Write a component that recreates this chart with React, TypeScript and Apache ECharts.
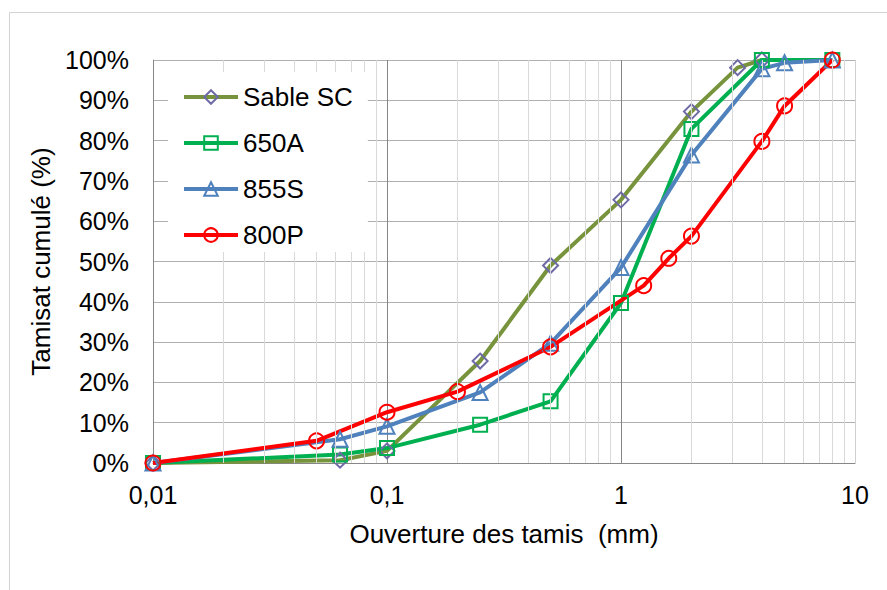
import React, { useEffect, useRef } from "react";
import * as echarts from "echarts";

const seriesNames = ["Sable SC", "650A", "855S", "800P"];
const sableSC: number[][] = [[0.01, 0], [0.063, 0.7], [0.1, 3], [0.25, 25.3], [0.5, 49], [1, 65.3], [2, 87.2], [3.15, 98.1], [4, 100]];
const a650: number[][] = [[0.01, 0], [0.063, 2.1], [0.1, 3.7], [0.25, 9.5], [0.5, 15.3], [1, 39.7], [2, 82.9], [4, 100], [8, 100]];
const s855: number[][] = [[0.01, 0], [0.063, 5.9], [0.1, 9.1], [0.25, 17.5], [0.5, 29.7], [1, 48.5], [2, 76.4], [4, 97.8], [5, 99.3], [8, 100]];
const p800: number[][] = [[0.01, 0], [0.05, 5.5], [0.1, 12.6], [0.2, 17.7], [0.5, 28.8], [1.25, 44], [1.6, 50.8], [2, 56.3], [4, 79.8], [5, 88.6], [8, 100]];

const decades = [0.01, 0.1, 1];
const minorMultipliers = [2, 3, 4, 5, 6, 7, 8, 9];

const FONT = "'Liberation Sans', Arial, sans-serif";

export default function App() {
  const ref = useRef<HTMLDivElement>(null);
  useEffect(() => {
    if (!ref.current) return;
    const chart = echarts.init(ref.current, null, { renderer: "svg" });
    const minorLines: { xAxis: number }[] = [];
    decades.forEach((d) => minorMultipliers.forEach((m) => minorLines.push({ xAxis: +(d * m).toPrecision(3) })));

    const mkSeries = (name: string, data: number[][], line: string, mark: string, symbol: string, size: number) => ({
      name,
      type: "line",
      data,
      symbol,
      symbolSize: size,
      showSymbol: true,
      z: 3,
      lineStyle: { color: line, width: 4 },
      itemStyle: { color: "rgba(255,255,255,0)", borderColor: mark, borderWidth: 2 },
      emphasis: { disabled: true },
    });

    chart.setOption({
      animation: false,
      textStyle: { fontFamily: FONT },
      grid: { left: 153, top: 60, right: 32, bottom: 127, containLabel: false },
      graphic: [
        {
          type: "rect",
          shape: { x: 9.5, y: 12.5, width: 900, height: 600 },
          style: { fill: "none", stroke: "#d3d3d3", lineWidth: 1 },
          z: -10,
          silent: true,
        },
      ],
      legend: {
        data: seriesNames,
        orient: "vertical",
        left: 168,
        top: 72,
        padding: [12, 15, 4, 14],
        backgroundColor: "#ffffff",
        itemWidth: 54,
        itemHeight: 17,
        itemGap: 20,
        lineStyle: { width: 4 },
        textStyle: { fontSize: 26, color: "#000", fontFamily: FONT },
        z: 10,
      },
      xAxis: {
        type: "log",
        logBase: 10,
        min: 0.01,
        max: 10,
        name: "Ouverture des tamis  (mm)",
        nameLocation: "middle",
        nameGap: 58,
        nameTextStyle: { fontSize: 26, color: "#000", fontFamily: FONT },
        axisLine: { show: true, lineStyle: { color: "#878787", width: 1 } },
        axisTick: { show: false },
        axisLabel: {
          fontSize: 25,
          color: "#000",
          margin: 19,
          fontFamily: FONT,
          formatter: (v: number) => String(+v.toPrecision(3)).replace(".", ","),
        },
        splitLine: { show: true, lineStyle: { color: ["#868686", "#868686", "#868686", "#d0d0d0"], width: 1 } },
      },
      yAxis: {
        type: "value",
        min: 0,
        max: 100,
        interval: 10,
        name: "Tamisat cumulé (%)",
        nameLocation: "middle",
        nameGap: 99,
        nameRotate: 90,
        nameTextStyle: { fontSize: 26, color: "#000", fontFamily: FONT },
        axisLine: { show: true, lineStyle: { color: "#878787", width: 1 } },
        axisTick: { show: false },
        axisLabel: { fontSize: 25, color: "#000", margin: 24, fontFamily: FONT, formatter: "{value}%" },
        splitLine: { show: true, lineStyle: { color: "#b0b0b0", width: 1 } },
      },
      series: [
        {
          name: "minor-grid",
          type: "line",
          data: [[0.01, 0]],
          symbol: "none",
          lineStyle: { opacity: 0 },
          z: 1,
          silent: true,
          markLine: {
            silent: true,
            symbol: ["none", "none"],
            label: { show: false },
            lineStyle: { color: "#d9d9d9", width: 1, type: "solid" },
            emphasis: { disabled: true },
            data: minorLines,
          },
        },
        mkSeries("Sable SC", sableSC, "#77933C", "#6E6AA6", "diamond", 15),
        mkSeries("650A", a650, "#00B050", "#00B050", "rect", 14),
        mkSeries("855S", s855, "#4F81BD", "#4F81BD", "triangle", 15),
        mkSeries("800P", p800, "#FF0000", "#FF0000", "circle", 15),
      ],
    });
    return () => chart.dispose();
  }, []);
  return <div ref={ref} style={{ position: "fixed", left: 0, top: 0, width: 887, height: 590, background: "#fff" }} />;
}
